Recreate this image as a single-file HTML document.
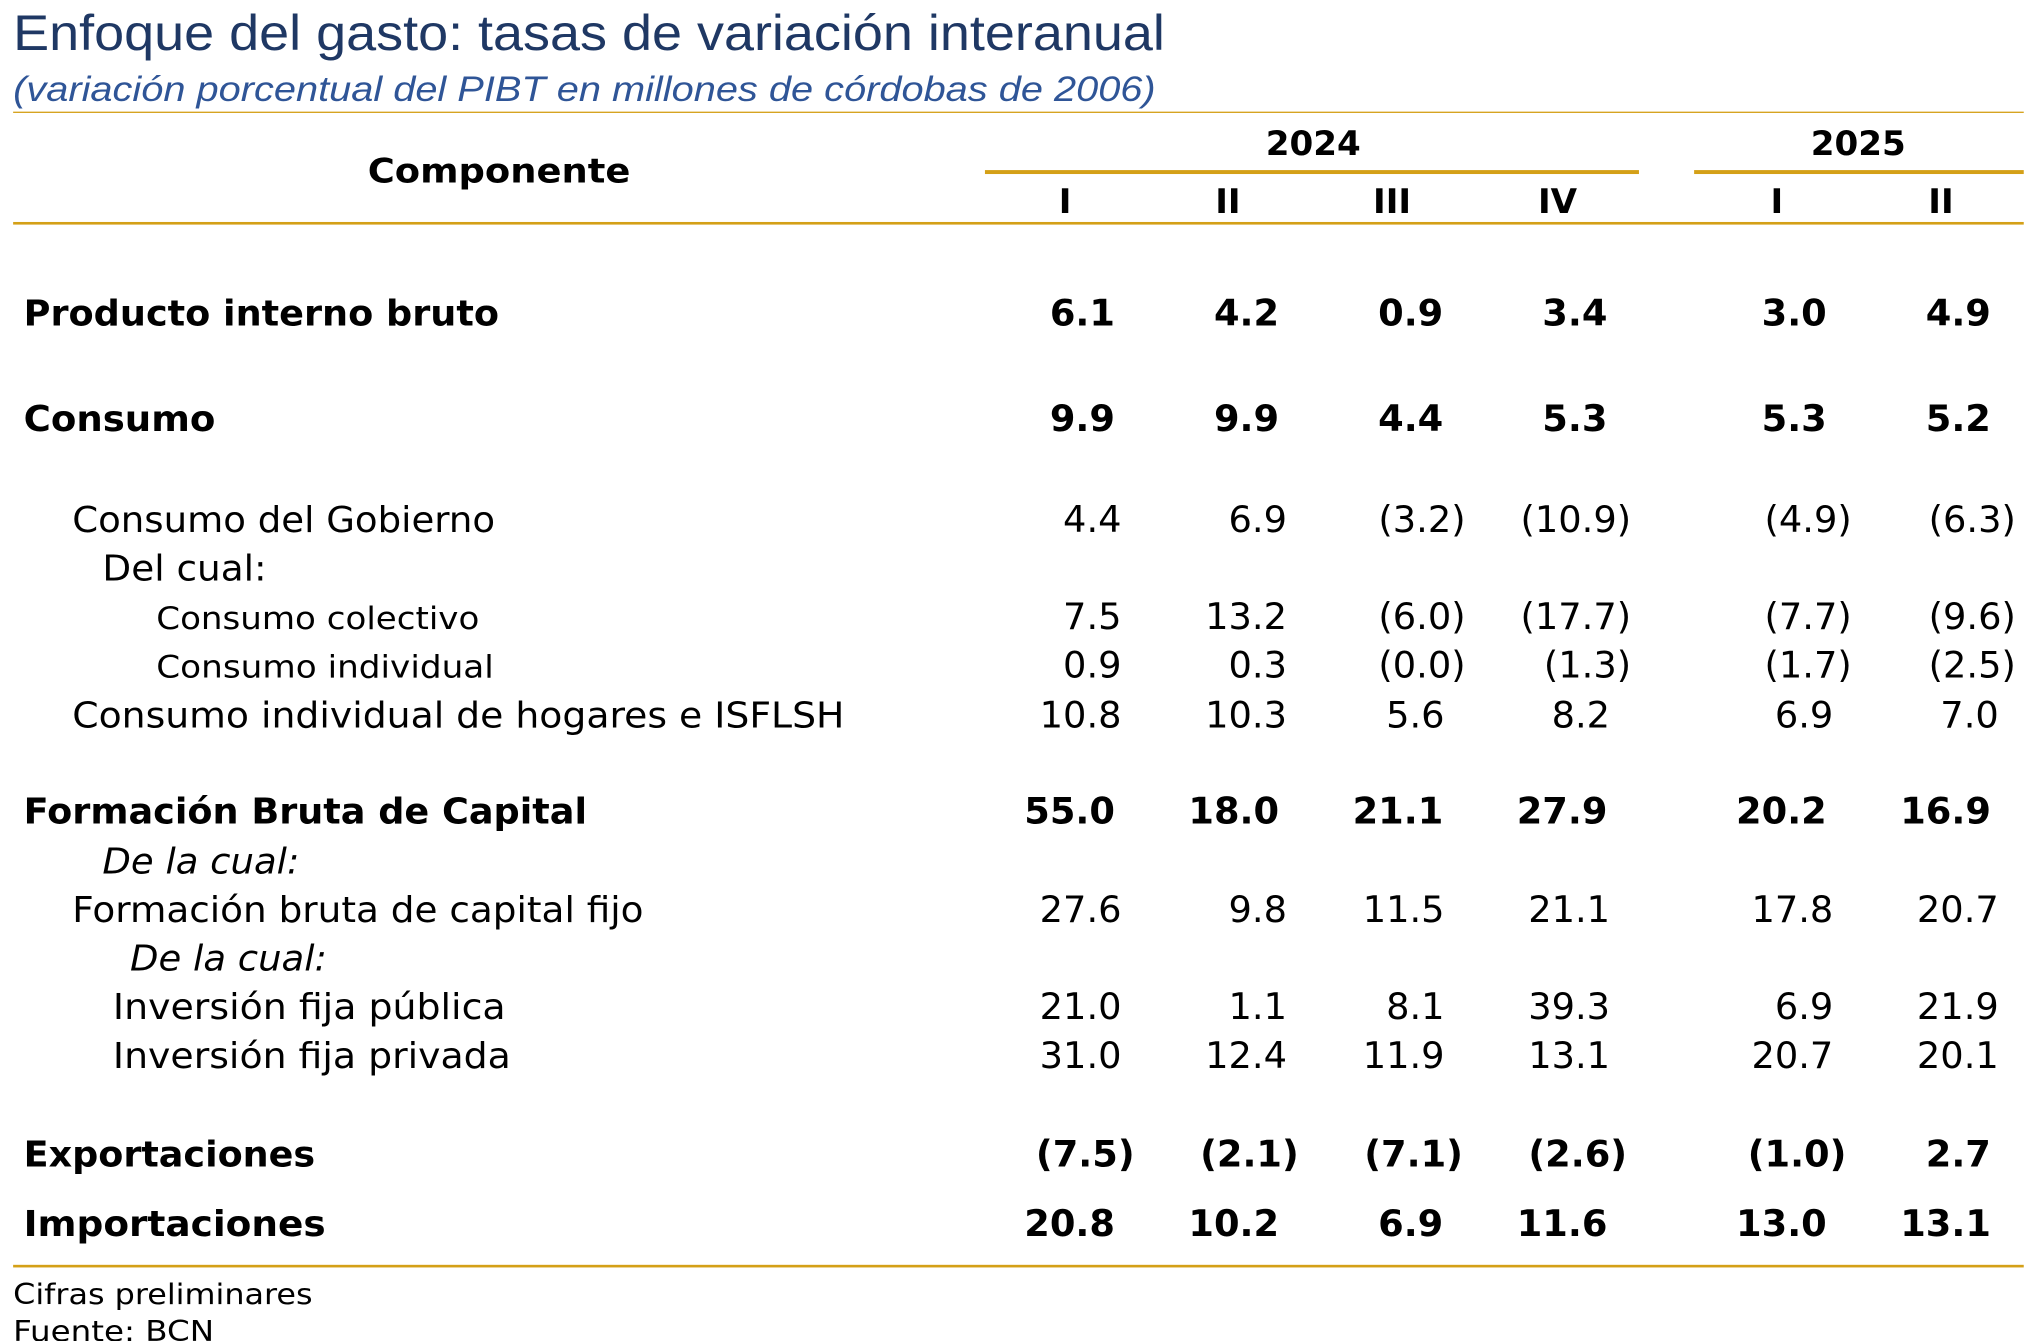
<!DOCTYPE html>
<html><head><meta charset="utf-8"><style>
html,body{margin:0;padding:0;background:#fff;width:2029px;height:1341px;overflow:hidden}
svg{display:block}
.t{font-family:"DejaVu Sans","Liberation Sans",sans-serif;fill:#000}
.b{font-weight:bold}
.n{text-anchor:end;font-size:28px}
</style></head><body>
<svg width="2029" height="1341" viewBox="0 0 1545 1021" preserveAspectRatio="none" xmlns="http://www.w3.org/2000/svg">
<text x="10" y="38" font-family="Liberation Sans, sans-serif" font-size="38" fill="#1f3864" textLength="877" lengthAdjust="spacingAndGlyphs">Enfoque del gasto: tasas de variación interanual</text>
<text x="10" y="77" font-family="Liberation Sans, sans-serif" font-style="italic" font-size="27" fill="#2f5597" textLength="870" lengthAdjust="spacingAndGlyphs">(variación porcentual del PIBT en millones de córdobas de 2006)</text>
<rect x="10" y="85" width="1531" height="1" fill="#d4a017"/>
<rect x="750" y="129.5" width="498" height="3" fill="#d4a017"/>
<rect x="1290" y="129.5" width="251" height="3" fill="#d4a017"/>
<rect x="10" y="169" width="1531" height="2" fill="#d4a017"/>
<rect x="10" y="963" width="1531" height="2" fill="#d4a017"/>
<g class="t b" font-size="26" text-anchor="middle">
<text x="380" y="139" textLength="200" lengthAdjust="spacingAndGlyphs">Componente</text>
<text x="1000" y="118">2024</text><text x="1415" y="118">2025</text>
<text x="811" y="162">I</text><text x="935" y="162">II</text><text x="1060" y="162">III</text><text x="1186" y="162">IV</text><text x="1353" y="162">I</text><text x="1478" y="162">II</text>
</g>
<g class="t" font-size="27">
<text class="b" x="18" y="248" textLength="362" lengthAdjust="spacingAndGlyphs">Producto interno bruto</text>
<text class="b" x="18" y="328" textLength="146" lengthAdjust="spacingAndGlyphs">Consumo</text>
<text x="55" y="405" textLength="322" lengthAdjust="spacingAndGlyphs">Consumo del Gobierno</text>
<text x="78" y="442" textLength="125" lengthAdjust="spacingAndGlyphs">Del cual:</text>
<text x="119" y="479" font-size="24" textLength="246" lengthAdjust="spacingAndGlyphs">Consumo colectivo</text>
<text x="119" y="516" font-size="24" textLength="257" lengthAdjust="spacingAndGlyphs">Consumo individual</text>
<text x="55" y="554" textLength="588" lengthAdjust="spacingAndGlyphs">Consumo individual de hogares e ISFLSH</text>
<text class="b" x="18" y="627" textLength="429" lengthAdjust="spacingAndGlyphs">Formación Bruta de Capital</text>
<text x="78" y="665" font-style="italic" textLength="150" lengthAdjust="spacingAndGlyphs">De la cual:</text>
<text x="55" y="702" textLength="435" lengthAdjust="spacingAndGlyphs">Formación bruta de capital fijo</text>
<text x="99" y="739" font-style="italic" textLength="150" lengthAdjust="spacingAndGlyphs">De la cual:</text>
<text x="86" y="776" textLength="299" lengthAdjust="spacingAndGlyphs">Inversión fija pública</text>
<text x="86" y="813" textLength="303" lengthAdjust="spacingAndGlyphs">Inversión fija privada</text>
<text class="b" x="18" y="888" textLength="222" lengthAdjust="spacingAndGlyphs">Exportaciones</text>
<text class="b" x="18" y="941" textLength="230" lengthAdjust="spacingAndGlyphs">Importaciones</text>
<text x="10" y="993" font-size="22" textLength="228" lengthAdjust="spacingAndGlyphs">Cifras preliminares</text>
<text x="10" y="1021" font-size="22" textLength="153" lengthAdjust="spacingAndGlyphs">Fuente: BCN</text>
</g>
<g class="t b n">
<text x="849" y="248">6.1</text><text x="974" y="248">4.2</text><text x="1099" y="248">0.9</text><text x="1224" y="248">3.4</text><text x="1391" y="248">3.0</text><text x="1516" y="248">4.9</text>
<text x="849" y="328">9.9</text><text x="974" y="328">9.9</text><text x="1099" y="328">4.4</text><text x="1224" y="328">5.3</text><text x="1391" y="328">5.3</text><text x="1516" y="328">5.2</text>
<text x="849" y="627">55.0</text><text x="974" y="627">18.0</text><text x="1099" y="627">21.1</text><text x="1224" y="627">27.9</text><text x="1391" y="627">20.2</text><text x="1516" y="627">16.9</text>
<text x="864" y="888">(7.5)</text><text x="989" y="888">(2.1)</text><text x="1114" y="888">(7.1)</text><text x="1239" y="888">(2.6)</text><text x="1406" y="888">(1.0)</text><text x="1516" y="888">2.7</text>
<text x="849" y="941">20.8</text><text x="974" y="941">10.2</text><text x="1099" y="941">6.9</text><text x="1224" y="941">11.6</text><text x="1391" y="941">13.0</text><text x="1516" y="941">13.1</text>
</g>
<g class="t n">
<text x="854" y="405">4.4</text><text x="980" y="405">6.9</text><text x="1116" y="405">(3.2)</text><text x="1242" y="405">(10.9)</text><text x="1410" y="405">(4.9)</text><text x="1535" y="405">(6.3)</text>
<text x="854" y="479">7.5</text><text x="980" y="479">13.2</text><text x="1116" y="479">(6.0)</text><text x="1242" y="479">(17.7)</text><text x="1410" y="479">(7.7)</text><text x="1535" y="479">(9.6)</text>
<text x="854" y="516">0.9</text><text x="980" y="516">0.3</text><text x="1116" y="516">(0.0)</text><text x="1242" y="516">(1.3)</text><text x="1410" y="516">(1.7)</text><text x="1535" y="516">(2.5)</text>
<text x="854" y="554">10.8</text><text x="980" y="554">10.3</text><text x="1100" y="554">5.6</text><text x="1226" y="554">8.2</text><text x="1396" y="554">6.9</text><text x="1522" y="554">7.0</text>
<text x="854" y="702">27.6</text><text x="980" y="702">9.8</text><text x="1100" y="702">11.5</text><text x="1226" y="702">21.1</text><text x="1396" y="702">17.8</text><text x="1522" y="702">20.7</text>
<text x="854" y="776">21.0</text><text x="980" y="776">1.1</text><text x="1100" y="776">8.1</text><text x="1226" y="776">39.3</text><text x="1396" y="776">6.9</text><text x="1522" y="776">21.9</text>
<text x="854" y="813">31.0</text><text x="980" y="813">12.4</text><text x="1100" y="813">11.9</text><text x="1226" y="813">13.1</text><text x="1396" y="813">20.7</text><text x="1522" y="813">20.1</text>
</g>
</svg>
</body></html>
